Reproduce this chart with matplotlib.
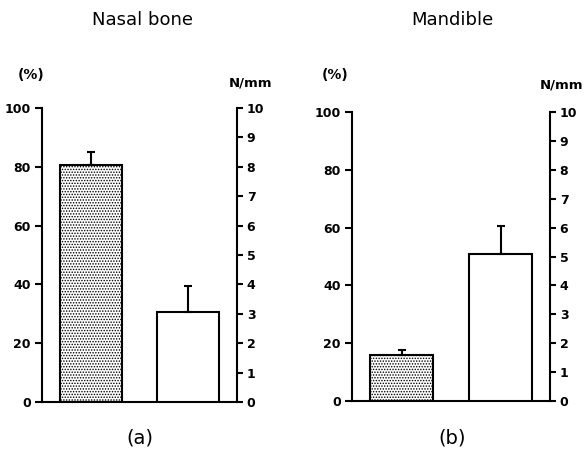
import matplotlib.pyplot as plt

plt.rcParams["hatch.linewidth"] = 0.7

# panel data: (stippled bar in %, open bar in N/mm)
panels = ["Nasal bone", "Mandible"]
panel_tags = ["(a)", "(b)"]
pct_values = [80.5, 15.8]
pct_errors = [4.6, 2.0]
force_values = [3.05, 5.1]
force_errors = [0.9, 0.95]

pct_ticks = [0, 20, 40, 60, 80, 100]
force_ticks = list(range(0, 11))

W, H = 588, 465
fig = plt.figure(figsize=(W / 100, H / 100), dpi=100)
rects = [
    [42 / W, 1 - 402 / H, 195 / W, 294 / H],
    [352 / W, 1 - 401 / H, 198 / W, 289 / H],
]
# label anchors in pixels (x, y from top)
title_xy = [(142, 20), (452, 20)]
tag_xy = [(140, 438), (452, 438)]
pct_xy = [(31, 75), (335, 75)]
unit_xy = [(229, 83), (540, 85)]

for i, rect in enumerate(rects):
    ax = fig.add_axes(rect)
    ax2 = ax.twinx()

    ax.bar([0], [pct_values[i]], width=0.64, facecolor="white",
           edgecolor="black", hatch="......", linewidth=1.5, zorder=2)
    ax.errorbar([0], [pct_values[i]], yerr=[[0], [pct_errors[i]]], fmt="none",
                ecolor="black", elinewidth=1.5, capsize=3, capthick=1.5)
    ax2.bar([1], [force_values[i]], width=0.64, facecolor="white",
            edgecolor="black", linewidth=1.5, zorder=2)
    ax2.errorbar([1], [force_values[i]], yerr=[[0], [force_errors[i]]], fmt="none",
                 ecolor="black", elinewidth=1.5, capsize=3, capthick=1.5)

    ax.set_xlim(-0.5, 1.5)
    ax.set_ylim(0, 100)
    ax2.set_ylim(0, 10)
    ax.set_xticks([])
    ax.set_yticks(pct_ticks)
    ax2.set_yticks(force_ticks)

    for a in (ax, ax2):
        for s in a.spines.values():
            s.set_linewidth(1.5)
        a.spines["top"].set_visible(False)
    ax.spines["right"].set_visible(False)
    ax2.spines["left"].set_visible(False)
    ax2.spines["bottom"].set_visible(False)

    ax.tick_params(axis="y", direction="out", length=5, width=1.5,
                   labelsize=9, pad=3)
    ax2.tick_params(axis="y", direction="out", length=4, width=1.5,
                    labelsize=9, pad=3)
    for lab in ax.get_yticklabels() + ax2.get_yticklabels():
        lab.set_fontweight("bold")

    fig.text(pct_xy[i][0] / W, 1 - pct_xy[i][1] / H, "(%)", ha="center",
             va="center", fontsize=10, fontweight="bold")
    fig.text(unit_xy[i][0] / W, 1 - unit_xy[i][1] / H, "N/mm", ha="left",
             va="center", fontsize=9.5, fontweight="bold")
    fig.text(title_xy[i][0] / W, 1 - title_xy[i][1] / H, panels[i],
             ha="center", va="center", fontsize=13)
    fig.text(tag_xy[i][0] / W, 1 - tag_xy[i][1] / H, panel_tags[i],
             ha="center", va="center", fontsize=14)

fig.savefig("out.png", dpi=100)
